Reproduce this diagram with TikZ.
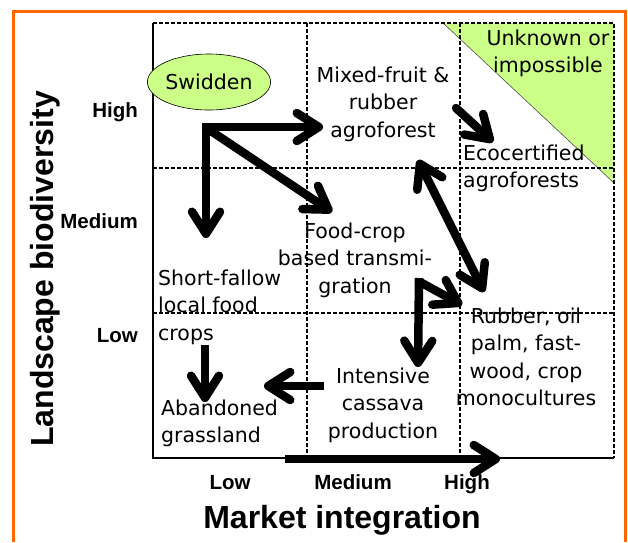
\documentclass[tikz,border=0pt]{standalone}
\usepackage{fontspec}
\setmainfont{DejaVu Sans}
\newfontfamily\axisfont{Liberation Sans}
\usetikzlibrary{arrows.meta,shapes.geometric}
\definecolor{lgreen}{RGB}{204,255,136}
\definecolor{frameorange}{RGB}{255,102,0}
\begin{document}
\begin{tikzpicture}[x=1pt,y=-1pt,
  lbl/.style={inner sep=0pt, font=\fontsize{20.5}{27.5}\selectfont, align=center, anchor=north},
  lbll/.style={lbl, align=left, anchor=north west},
  axlbl/.style={inner sep=0pt, font=\axisfont\bfseries\fontsize{20.5}{24}\selectfont},
  axtitle/.style={inner sep=0pt, font=\axisfont\bfseries\fontsize{32}{36}\selectfont},
  gridline/.style={line width=1.4pt, dash pattern=on 4pt off 2pt},
  barb/.tip={Straight Barb[length=22pt,width=28pt,round]},
  bigarrow/.style={line width=8.5pt, -barb},
]
\useasboundingbox (0,0) rectangle (628,542);
% orange frame
\draw[frameorange, line width=3pt] (13,542) -- (13,11) -- (625,11) -- (625,542);
% unknown region
\fill[lgreen] (443,23) -- (614,23) -- (614,183) -- cycle;
\draw[line width=0.6pt, black!70] (443,23) -- (614,183);
% grid
\draw[gridline] (153,23) -- (614,23) -- (614,458);
\draw[gridline] (307,23) -- (307,458);
\draw[gridline] (460,23) -- (460,458);
\draw[gridline] (153,168) -- (614,168);
\draw[gridline] (153,313) -- (614,313);
\draw[line width=1.2pt] (153,23) -- (153,458) -- (614,458);
% labels
\node[ellipse, draw, line width=0.6pt, fill=lgreen, minimum width=118pt, minimum height=56pt,
      inner sep=0pt, font=\fontsize{20.5}{27.5}\selectfont] (swidden) at (209,82) {Swidden};
\node[lbl] (mixed) at (383,66.4) {Mixed-fruit \&\\rubber\\agroforest};
\node[lbl] (unknown) at (548,29.4) {Unknown or\\impossible};
\node[lbll] (eco) at (463,144.4) {Ecocertified\\agroforests};
\node[lbl] (food) at (355,222.4) {Food-crop\\based transmi-\\gration};
\node[lbll] (short) at (158,269.4) {Short-fallow\\local food\\crops};
\node[lbl] (rubber) at (526,307.4) {Rubber, oil\\palm, fast-\\wood, crop\\monocultures};
\node[lbl] (intensive) at (383,367.4) {Intensive\\cassava\\production};
\node[lbll] (abandoned) at (161,399.4) {Abandoned\\grassland};
% axis labels
\node[axlbl, anchor=base east] (yhigh) at (138,117) {High};
\node[axlbl, anchor=base east] (ymed) at (138,228) {Medium};
\node[axlbl, anchor=base east] (ylow) at (138,342) {Low};
\node[axlbl, anchor=base] (xlow) at (230,489) {Low};
\node[axlbl, anchor=base] (xmed) at (353,489) {Medium};
\node[axlbl, anchor=base] (xhigh) at (467,489) {High};
\node[axtitle, anchor=base] (xtitle) at (342,528) {Market integration};
\node[axtitle, anchor=base, rotate=90] (ytitle) at (53,269) {Landscape biodiversity};
% arrow coordinates
\coordinate (hs) at (202,127);
\coordinate (he) at (323,127);
\coordinate (vs) at (206,123);
\coordinate (ve) at (206,238);
\coordinate (ds) at (208,129);
\coordinate (de) at (332,212);
\coordinate (es) at (456,108);
\coordinate (ee) at (493,142);
\coordinate (bs) at (418,160);
\coordinate (be) at (484,292);
\coordinate (ks) at (419,278);
\coordinate (ke) at (418,367);
\coordinate (ls) at (420,282);
\coordinate (le) at (462,305);
\coordinate (cs) at (205,345);
\coordinate (ce) at (205,402);
\coordinate (is) at (324,386);
\coordinate (ie) at (264,386);
\coordinate (ms) at (285,459);
\coordinate (me) at (500,459);
% arrows
\draw[bigarrow, line cap=butt] (hs) -- (he);
\draw[bigarrow, line cap=butt] (vs) -- (ve);
\draw[bigarrow, line cap=round] (ds) -- (de);
\draw[bigarrow, line cap=round] (es) -- (ee);
\draw[line width=8.5pt, line cap=round, barb-barb] (bs) -- (be);
\draw[bigarrow, line cap=butt] (ks) -- (ke);
\draw[bigarrow, line cap=round] (ls) -- (le);
\draw[bigarrow, line cap=butt] (cs) -- (ce);
\draw[bigarrow, line cap=butt] (is) -- (ie);
\draw[bigarrow, line cap=butt] (ms) -- (me);
\end{tikzpicture}
\end{document}
